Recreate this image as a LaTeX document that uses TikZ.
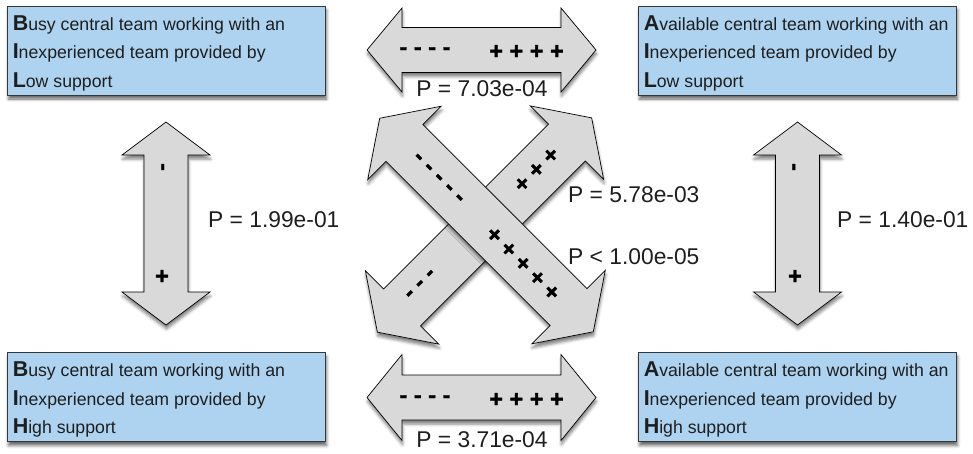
\documentclass[tikz,border=0pt]{standalone}
\usepackage{fontspec}
\setmainfont{Liberation Sans}
\usetikzlibrary{shadows.blur}

\definecolor{boxblue}{RGB}{174,211,240}
\definecolor{arrowgray}{RGB}{217,217,217}
\definecolor{boxline}{RGB}{55,55,55}
\definecolor{ink}{RGB}{30,30,30}

% bold, enlarged initial letter of each panel line
\newcommand\ini[1]{{\fontsize{21.5}{22}\selectfont\bfseries #1}}

% fat double-headed arrow: centre (#1,#2), axis vector #3, normal vector #4,
% half length #5, head length #6, head half-width #7, shaft half-width #8
\newcommand\bigarrow[8]{%
  \begin{scope}[shift={(#1,#2)}, x={#3}, y={#4}]
    \path[fatarrow] (-#5,0) -- (-#5+#6,#7) -- (-#5+#6,#8) -- (#5-#6,#8) -- (#5-#6,#7) -- (#5,0)
      -- (#5-#6,-#7) -- (#5-#6,-#8) -- (-#5+#6,-#8) -- (-#5+#6,-#7) -- cycle;
  \end{scope}}

\tikzset{
  panel/.style={draw=boxline, line width=0.9pt, fill=boxblue, inner sep=0pt,
    minimum width=318pt, minimum height=89pt,
    blur shadow={shadow xshift=1.5pt, shadow yshift=-4pt, shadow blur radius=3pt, shadow opacity=60}},
  fatarrow/.style={draw=black, line width=0.7pt, fill=arrowgray, line join=miter,
    blur shadow={shadow xshift=0.5pt, shadow yshift=-4pt, shadow blur radius=3pt, shadow opacity=50}},
  txt/.style={anchor=base west, inner sep=0pt, text=ink, font=\fontsize{17.7}{20}\selectfont},
  pval/.style={inner sep=0pt, text=ink, font=\fontsize{22.8}{24}\selectfont},
  signs/.style={inner sep=0pt, text=black, font=\fontsize{23.5}{24}\selectfont\bfseries\addfontfeatures{FakeBold=1.6}},
}

\begin{document}
\begin{tikzpicture}[x=1pt,y=-1pt]
\useasboundingbox (0,0) rectangle (973,453);

% the four panels
\node[panel] (bil) at (166,50.5) {};
\node[panel] (ail) at (797,50.5) {};
\node[panel] (bih) at (166,397) {};
\node[panel] (aih) at (797,397) {};

% horizontal arrows
\bigarrow{481.5}{50}{(1pt,0pt)}{(0pt,1pt)}{114.5}{35}{42}{22.5}
\bigarrow{481.5}{397.5}{(1pt,0pt)}{(0pt,1pt)}{114.5}{35}{43}{22.5}
% vertical arrows
\bigarrow{166}{223.5}{(0pt,1pt)}{(1pt,0pt)}{101.5}{33}{44}{22}
\bigarrow{797.5}{223.5}{(0pt,1pt)}{(1pt,0pt)}{101.5}{33}{44}{22}
% diagonal arrows (the falling one lies on top)
\bigarrow{484.5}{225}{(0.7071pt,0.7071pt)}{(-0.7071pt,0.7071pt)}{151.5}{35}{52}{26}
\bigarrow{486.5}{225}{(0.7071pt,-0.7071pt)}{(0.7071pt,0.7071pt)}{151}{35}{52}{26}

% panel texts
\node[txt] (bil1) at ([shift={(6,24.5)}]bil.north west) {\ini{B}usy central team working with an};
\node[txt] (bil2) at ([shift={(6,53)}]bil.north west) {\ini{I}nexperienced team provided by};
\node[txt] (bil3) at ([shift={(6,81.5)}]bil.north west) {\ini{L}ow support};

\node[txt] (ail1) at ([shift={(6,24.5)}]ail.north west) {\ini{A}vailable central team working with an};
\node[txt] (ail2) at ([shift={(6,53)}]ail.north west) {\ini{I}nexperienced team provided by};
\node[txt] (ail3) at ([shift={(6,81.5)}]ail.north west) {\ini{L}ow support};

\node[txt] (bih1) at ([shift={(6,24.5)}]bih.north west) {\ini{B}usy central team working with an};
\node[txt] (bih2) at ([shift={(6,53)}]bih.north west) {\ini{I}nexperienced team provided by};
\node[txt] (bih3) at ([shift={(6,81.5)}]bih.north west) {\ini{H}igh support};

\node[txt] (aih1) at ([shift={(6,24.5)}]aih.north west) {\ini{A}vailable central team working with an};
\node[txt] (aih2) at ([shift={(6,53)}]aih.north west) {\ini{I}nexperienced team provided by};
\node[txt] (aih3) at ([shift={(6,81.5)}]aih.north west) {\ini{H}igh support};

% signs on the arrows
\node[signs] (tm) at (425,51) {- - - -};
\node[signs] (tp) at (526.5,52) {+ + + +};
\node[signs] (bm) at (425,399) {- - - -};
\node[signs] (bp) at (526.5,400) {+ + + +};
\node[signs, rotate=90] (lm) at (165,167) {-};
\node[signs] (lp) at (162,277) {+};
\node[signs, rotate=90] (rm) at (796,167) {-};
\node[signs] (rp) at (795,277) {+};
\node[signs, rotate=-45] (am) at (437.5,179) {- - - - -};
\node[signs, rotate=-45] (ap) at (522.5,264) {+ + + + +};
\node[signs, rotate=45] (cm) at (421.5,285) {- - -};
\node[signs, rotate=45] (cp) at (537,170) {+ + +};

% p-values
\node[pval] (p1) at (482,89) {P = 7.03e-04};
\node[pval] (p2) at (482,440) {P = 3.71e-04};
\node[pval, anchor=west] (p3) at (208,220) {P = 1.99e-01};
\node[pval, anchor=west] (p4) at (837,220) {P = 1.40e-01};
\node[pval, anchor=west] (p5) at (568,195) {P = 5.78e-03};
\node[pval, anchor=west] (p6) at (568,257) {P < 1.00e-05};
\end{tikzpicture}
\end{document}
